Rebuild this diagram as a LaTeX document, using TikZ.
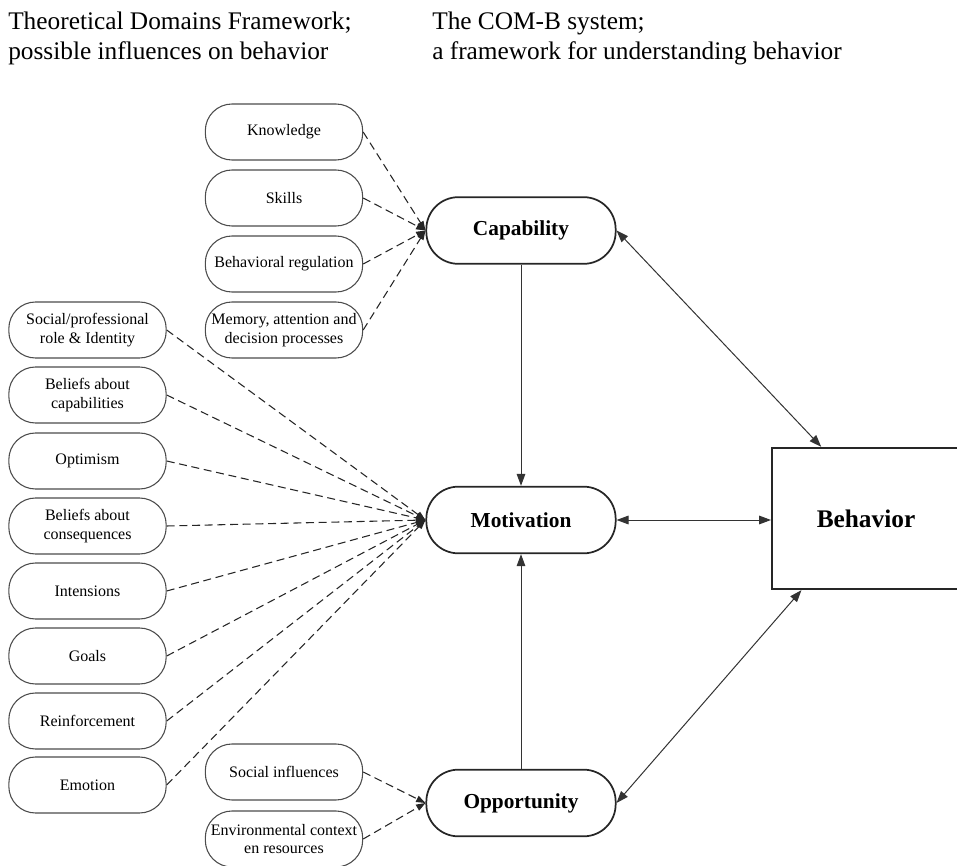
\documentclass[tikz,border=0pt]{standalone}
\usepackage{fontspec}
\setmainfont{Liberation Serif}
\usepackage{tikz}
\usetikzlibrary{positioning}
\usetikzlibrary{arrows.meta}

\begin{document}
\begin{tikzpicture}[x=0.75pt,y=-0.75pt,
    tdfbox/.style={draw=black!70, line width=0.8pt, rounded corners=20pt,
        minimum width=118pt, minimum height=42pt, inner sep=1pt,
        align=center, font=\fontsize{12}{14}\selectfont},
    combbox/.style={draw=black!85, line width=1.3pt, rounded corners=24pt,
        minimum width=142pt, minimum height=50pt,
        font=\bfseries\fontsize{16}{19}\selectfont},
    influence/.style={black!85, line width=0.8pt, dash pattern=on 6pt off 3.5pt,
        -{Triangle[length=7pt,width=5pt]}},
    link/.style={black!80, line width=0.75pt,
        {Triangle[length=9pt,width=6.5pt]}-{Triangle[length=9pt,width=6.5pt]}},
    flow/.style={black!80, line width=0.75pt, -{Triangle[length=9pt,width=6.5pt]}}]
    \useasboundingbox (0,0) rectangle (957,866);

    \node[anchor=base west, align=left, inner sep=0pt,
        font=\fontsize{19}{22.5}\selectfont] (titletdf) at (8,60)
        {Theoretical Domains Framework;\\possible influences on behavior};
    \node[anchor=base west, align=left, inner sep=0pt,
        font=\fontsize{19}{22.5}\selectfont] (titlecomb) at (432,60)
        {The COM-B system;\\a framework for understanding behavior};

    % COM-B
    \node[combbox] (cap) at (521,230.5) {Capability};
    \node[combbox] (mot) at (521,520)   {Motivation};
    \node[combbox] (opp) at (521,803)   {Opportunity};
    \node[draw=black!85, line width=1.5pt, minimum width=141pt, minimum height=106pt,
        font=\bfseries\fontsize{19}{22}\selectfont] (beh) at (866,518.5) {Behavior};

    % domains
    \node[tdfbox] (know)  at (284,132) {Knowledge};
    \node[tdfbox] (skill) at (284,198) {Skills};
    \node[tdfbox] (breg)  at (284,264) {Behavioral regulation};
    \node[tdfbox] (mem)   at (284,330) {Memory, attention and\\decision processes};

    \node[tdfbox] (role)  at (87.5,330) {Social/professional\\role \& Identity};
    \node[tdfbox] (bcap)  at (87.5,395) {Beliefs about\\capabilities};
    \node[tdfbox] (optim) at (87.5,461) {Optimism};
    \node[tdfbox] (bcons) at (87.5,526) {Beliefs about\\consequences};
    \node[tdfbox] (inten) at (87.5,591) {Intensions};
    \node[tdfbox] (goal)  at (87.5,656) {Goals};
    \node[tdfbox] (reinf) at (87.5,721) {Reinforcement};
    \node[tdfbox] (emo)   at (87.5,785) {Emotion};

    \node[tdfbox] (socinf) at (284,772) {Social influences};
    \node[tdfbox] (env)    at (284,839) {Environmental context\\en resources};

    \draw[influence] (know.east)  -- (cap.west);
    \draw[influence] (skill.east) -- (cap.west);
    \draw[influence] (breg.east)  -- (cap.west);
    \draw[influence] (mem.east)   -- (cap.west);

    \draw[influence] (role.east)  -- (mot.west);
    \draw[influence] (bcap.east)  -- (mot.west);
    \draw[influence] (optim.east) -- (mot.west);
    \draw[influence] (bcons.east) -- (mot.west);
    \draw[influence] (inten.east) -- (mot.west);
    \draw[influence] (goal.east)  -- (mot.west);
    \draw[influence] (reinf.east) -- (mot.west);
    \draw[influence] (emo.east)   -- (mot.west);

    \draw[influence] (socinf.east) -- (opp.west);
    \draw[influence] (env.east)    -- (opp.west);

    \draw[flow] (cap.south) -- (mot.north);
    \draw[flow] (opp.north) -- (mot.south);
    \draw[link] (cap.east) -- (beh.122);
    \draw[link] (mot.east) -- (mot.east -| beh.west);
    \draw[link] (opp.east) -- (beh.228);

\end{tikzpicture}
\end{document}
